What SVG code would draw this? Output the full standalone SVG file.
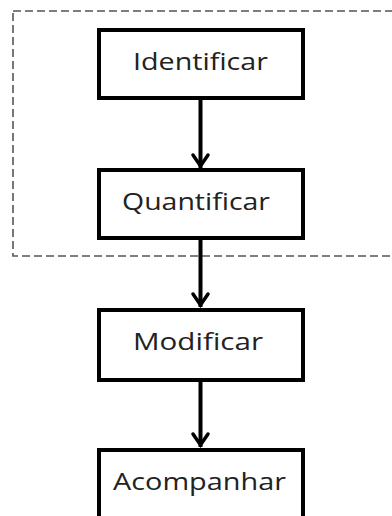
<svg xmlns="http://www.w3.org/2000/svg" width="392" height="516" viewBox="0 0 392 516">
<style>
.box{fill:#fff;stroke:#000;stroke-width:4}
.lbl{font-family:"Open Sans","Liberation Sans",sans-serif;font-size:23px;fill:#222}
.con{stroke:#000;stroke-width:4;fill:none}
.head{stroke:#000;stroke-width:3.5;fill:none;stroke-linecap:round;stroke-linejoin:miter}
</style>
<rect id="group-box" x="13" y="11" width="390" height="245" fill="none" stroke="#555" stroke-width="1.6" stroke-dasharray="8,4"/>
<g id="connectors">
<line class="con" x1="200.5" y1="98" x2="200.5" y2="168"/>
<polyline class="head" points="193,155 200.5,166 208,155"/>
<line class="con" x1="200.5" y1="238" x2="200.5" y2="307"/>
<polyline class="head" points="193,294 200.5,305 208,294"/>
<line class="con" x1="200.5" y1="380" x2="200.5" y2="447"/>
<polyline class="head" points="193,434 200.5,445 208,434"/>
</g>
<g id="identificar"><rect class="box" x="99" y="30" width="204" height="68"/><text class="lbl" x="133" y="70" textLength="135" lengthAdjust="spacingAndGlyphs">Identificar</text></g>
<g id="quantificar"><rect class="box" x="99" y="170" width="204" height="68"/><text class="lbl" x="122" y="210" textLength="148" lengthAdjust="spacingAndGlyphs">Quantificar</text></g>
<g id="modificar"><rect class="box" x="99" y="310" width="204" height="70"/><text class="lbl" x="133" y="350" textLength="130" lengthAdjust="spacingAndGlyphs">Modificar</text></g>
<g id="acompanhar"><rect class="box" x="99" y="450" width="204" height="80"/><text class="lbl" x="113" y="490" textLength="173" lengthAdjust="spacingAndGlyphs">Acompanhar</text></g>
</svg>
